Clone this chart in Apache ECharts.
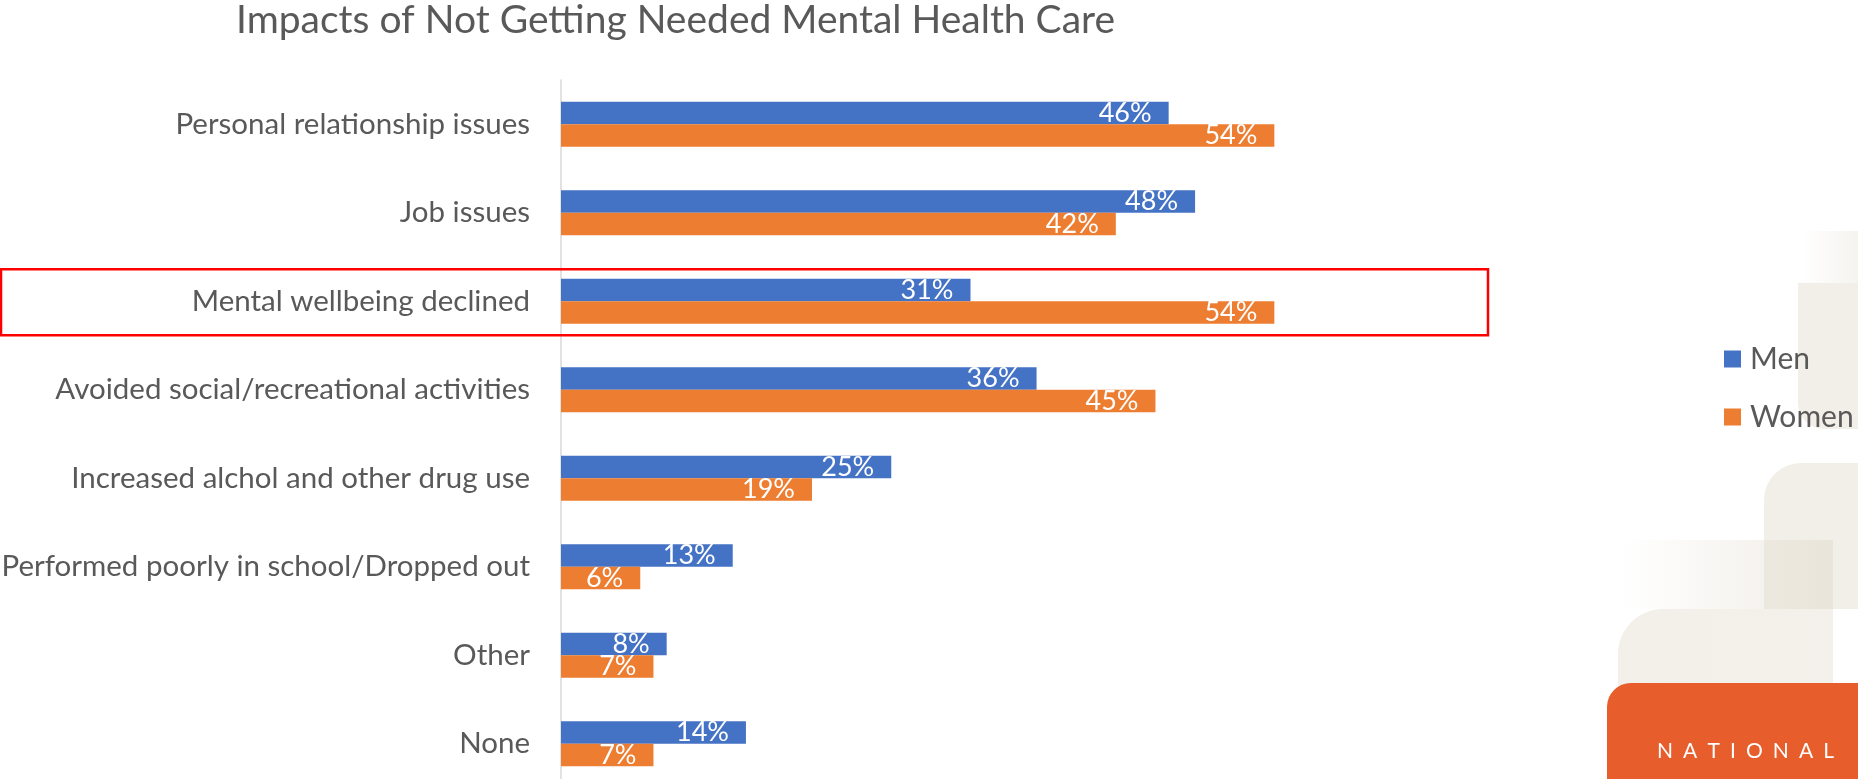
<!DOCTYPE html>
<html>
<head>
<meta charset="utf-8">
<script src="https://cdn.jsdelivr.net/npm/echarts@6/dist/echarts.min.js"></script>
<style>
html,body{margin:0;padding:0;background:#fff;}
#chart{width:1858px;height:779px;}
</style>
</head>
<body>
<div id="chart"></div>
<script>
const titleText = 'Impacts of Not Getting Needed Mental Health Care';
const categories = [
  'Personal relationship issues',
  'Job issues',
  'Mental wellbeing declined',
  'Avoided social/recreational activities',
  'Increased alchol and other drug use',
  'Performed poorly in school/Dropped out',
  'Other',
  'None'
];
const seriesNames = ['Men', 'Women'];
const menValues = [46, 48, 31, 36, 25, 13, 8, 14];
const womenValues = [54, 42, 54, 45, 19, 6, 7, 7];
const highlightCategory = 'Mental wellbeing declined';
const brandText = 'NATIONAL';

const FONT = 'Lato, "Open Sans", sans-serif';
const TEXT = '#595959';
const beige = 'rgba(226,219,205,0.45)';

const chart = echarts.init(document.getElementById('chart'), null, {renderer: 'canvas'});

// letter-spaced brand text, spread over a given width
function spacedText(text, x0, yMid, totalWidth, font) {
  const ctx = document.createElement('canvas').getContext('2d');
  ctx.font = font;
  const widths = text.split('').map(ch => ctx.measureText(ch).width);
  const sum = widths.reduce((a, b) => a + b, 0);
  const ls = (totalWidth - sum) / (text.length - 1);
  let x = x0;
  return text.split('').map((ch, i) => {
    const el = {type: 'text', z: -4, silent: true,
      style: {x: x, y: yMid, text: ch, fill: '#ffffff', font: font,
              textVerticalAlign: 'middle', textAlign: 'left'}};
    x += widths[i] + ls;
    return el;
  });
}

function decorations(boxY, boxH) {
  return [
    {type:'rect', z:-10, silent:true, shape:{x:1802,y:231,width:56,height:52},
     style:{fill:{type:'linear',x:0,y:0,x2:1,y2:0,colorStops:[{offset:0,color:'rgba(240,236,228,0)'},{offset:1,color:'rgba(240,236,228,0.6)'}]}}},
    {type:'rect', z:-10, silent:true, shape:{x:1798,y:283,width:60,height:146,r:[0,0,0,26]},
     style:{fill:beige}},
    {type:'rect', z:-10, silent:true, shape:{x:1764,y:463,width:94,height:146,r:[37,0,0,0]},
     style:{fill:beige}},
    {type:'rect', z:-10, silent:true, shape:{x:1622,y:540,width:211,height:69},
     style:{fill:{type:'linear',x:0,y:0,x2:1,y2:0,colorStops:[{offset:0,color:'rgba(226,219,205,0)'},{offset:1,color:'rgba(226,219,205,0.5)'}]}}},
    {type:'rect', z:-10, silent:true, shape:{x:1618,y:609,width:215,height:80,r:[45,0,0,0]},
     style:{fill:{type:'linear',x:0,y:0,x2:1,y2:0,colorStops:[{offset:0,color:'rgba(226,219,205,0.42)'},{offset:1,color:'rgba(226,219,205,0.4)'}]}}},
    {type:'rect', z:-5, silent:true, shape:{x:1607,y:683,width:260,height:110,r:[24,0,0,0]},
     style:{fill:'#E85D2C'}},
    {type:'group', children: spacedText(brandText, 1657, 751, 177, '21px Lato, sans-serif')},
    {type:'rect', z:10, silent:true, shape:{x:1,y:boxY,width:1487,height:boxH},
     style:{fill:'none',stroke:'#FF0000',lineWidth:2.5}}
  ];
}

const labelStyle = {
  show: true,
  position: 'insideRight',
  distance: 17,
  color: '#ffffff',
  fontSize: 27,
  fontFamily: FONT,
  formatter: '{c}%'
};

chart.setOption({
  animation: false,
  backgroundColor: '#ffffff',
  title: {
    text: titleText,
    left: 236,
    top: 1,
    padding: 0,
    textStyle: {color: TEXT, fontSize: 39, fontWeight: 'normal', fontFamily: FONT}
  },
  legend: {
    data: seriesNames,
    orient: 'vertical',
    left: 1724,
    top: 344,
    padding: 0,
    itemWidth: 17,
    itemHeight: 17,
    itemGap: 28,
    icon: 'rect',
    textStyle: {color: TEXT, fontSize: 30, fontFamily: FONT, lineHeight: 30, padding:[0,0,0,4]}
  },
  grid: {left: 561, top: 80, width: 792.6, height: 708, containLabel: false, outerBoundsMode: 'none'},
  xAxis: {
    type: 'value', min: 0, max: 60, show: false,
    splitLine: {show: false}
  },
  yAxis: {
    type: 'category',
    data: categories,
    inverse: true,
    axisLine: {show: true, lineStyle: {color: '#D9D9D9', width: 1.5}},
    axisTick: {show: false},
    axisLabel: {color: TEXT, fontSize: 29.5, fontFamily: FONT, margin: 31}
  },
  series: [
    {name: seriesNames[0], type: 'bar', data: menValues, barGap: '0%', barCategoryGap: '49%',
     itemStyle: {color: '#4472C4'}, label: labelStyle},
    {name: seriesNames[1], type: 'bar', data: womenValues, barGap: '0%', barCategoryGap: '49%',
     itemStyle: {color: '#ED7D31'}, label: labelStyle}
  ]
});

const yc = chart.convertToPixel({yAxisIndex: 0}, highlightCategory);
chart.setOption({graphic: decorations(yc - 32, 66)});
</script>
</body>
</html>
